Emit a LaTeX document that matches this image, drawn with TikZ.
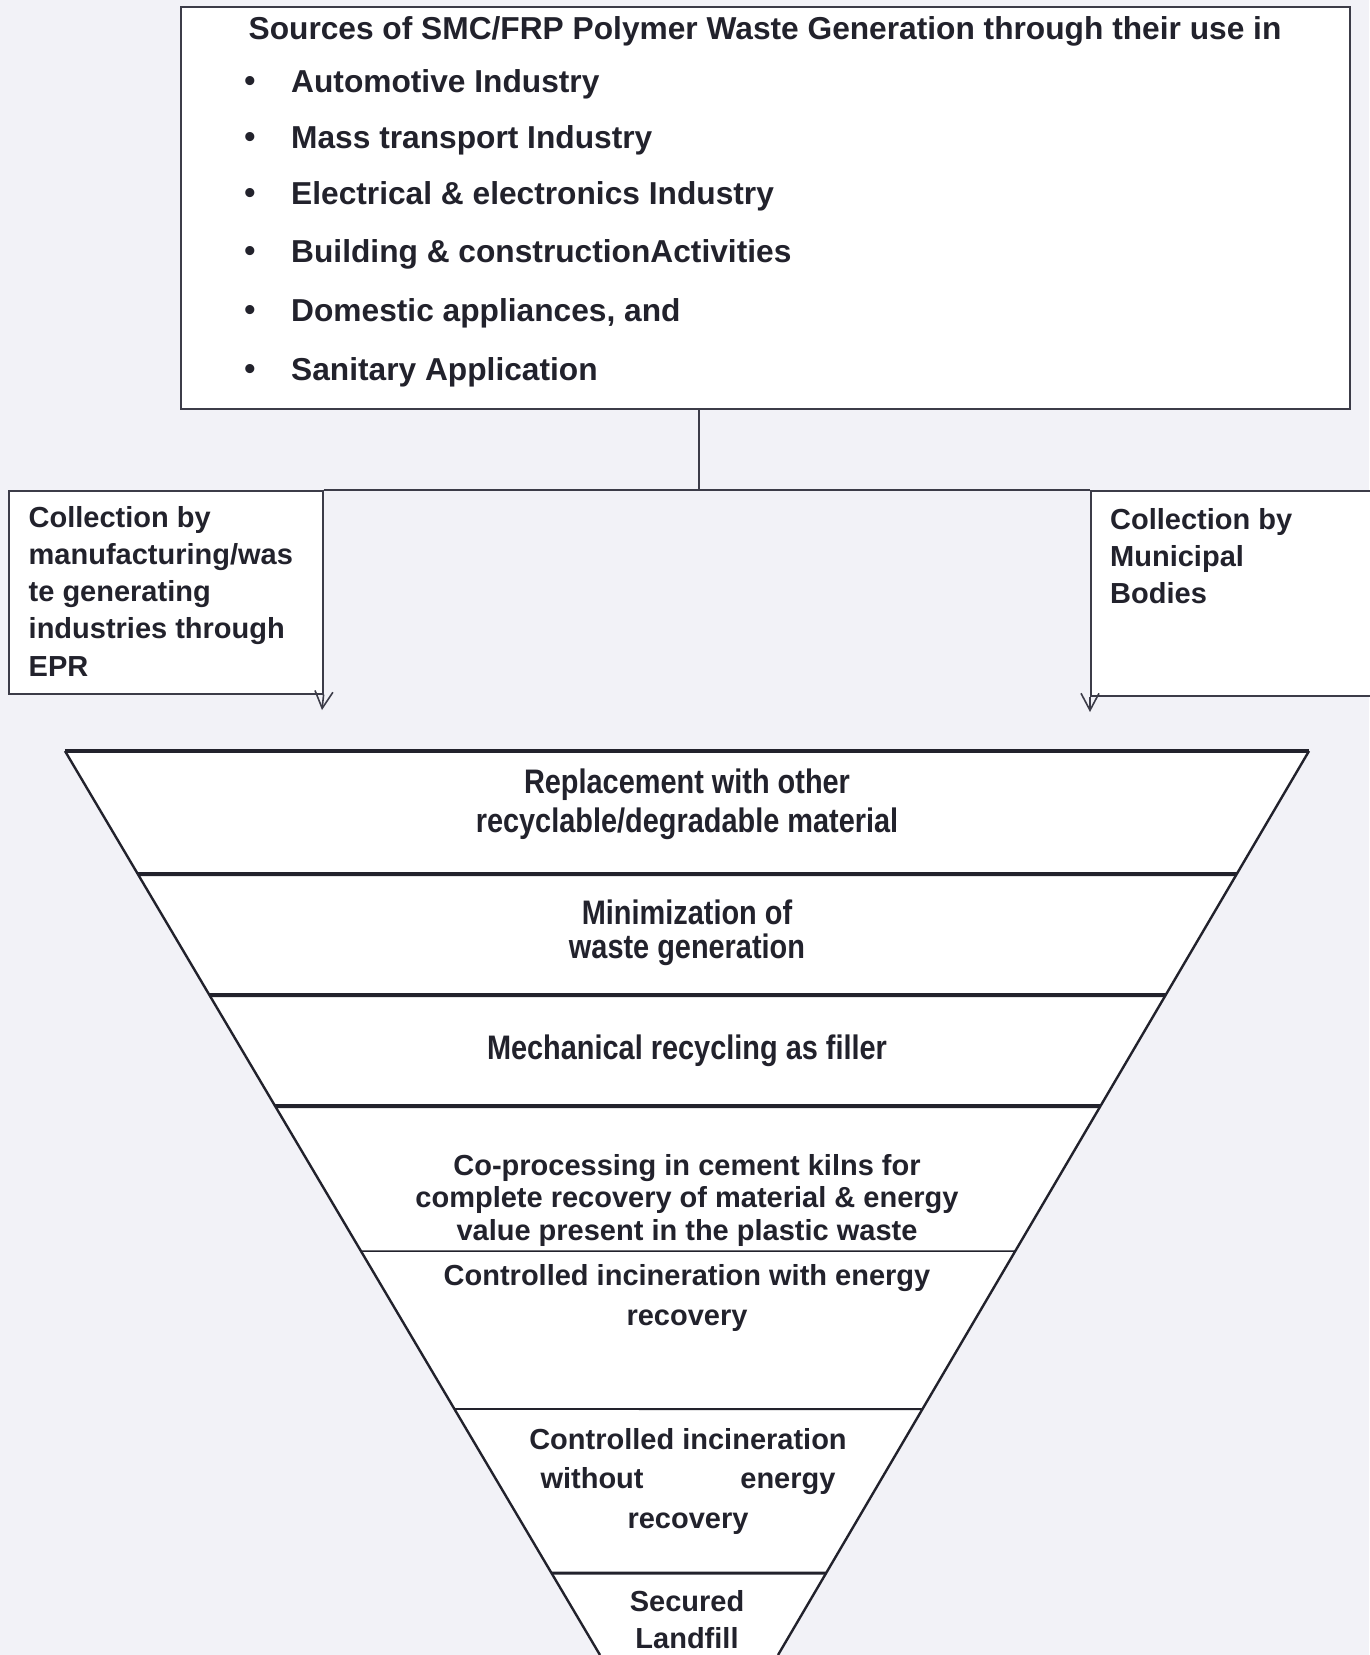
\documentclass[tikz,border=0pt]{standalone}
\usepackage{fontspec}
\setmainfont{Liberation Sans}
\newfontfamily\narrowsans{Liberation Sans}[FakeStretch=0.85]
\usetikzlibrary{arrows.meta}
\definecolor{ink}{RGB}{34,34,44}
\definecolor{lineink}{RGB}{60,60,72}
\definecolor{paper}{RGB}{242,242,247}
\tikzset{
  wire/.style={lineink,line width=1.6pt},
  flow/.style={wire,-{Straight Barb[length=17pt,width=18pt,line width=1.6pt]}},
  panel/.style={draw=lineink,line width=1.6pt,fill=white,inner sep=0pt,anchor=north west},
  head/.style={font=\fontsize{31.7}{36}\selectfont\bfseries,text=ink,inner sep=0pt},
  entry/.style={head,anchor=west},
  side/.style={font=\fontsize{29}{37.2}\selectfont\bfseries,text=ink,inner sep=0pt,
               align=left,anchor=north west},
  tier/.style={font=\fontsize{29}{#1}\selectfont\bfseries,text=ink,inner sep=0pt,align=center},
  tier/.default=40,
  tiernarrow/.style={tier,font=\narrowsans\fontsize{34}{#1}\selectfont\bfseries},
  tiernarrow/.default=39,
  rim/.style={draw=ink,line width=4.5pt},
}

\begin{document}
\begin{tikzpicture}[x=1pt,y=-1pt]
  \path[use as bounding box,fill=paper] (0,0) rectangle (1369,1655);

  % sources box
  \node[panel,minimum width=1169pt,minimum height=402pt] (src) at (180,6) {};
  \node[head] (title) at (765,31.5)
    {Sources of SMC/FRP Polymer Waste Generation through their use in};
  \foreach \txt/\y [count=\i] in {Automotive Industry/84.3, Mass transport Industry/140.2,
      Electrical \& electronics Industry/196.2, Building \& constructionActivities/254.2,
      {Domestic appliances, and}/313.3, Sanitary Application/372.4}{
    \node[head] (dot\i) at (250,\y) {\textbullet};
    \node[entry] (item\i) at (291,\y) {\txt};
  }

  % collection routes
  \coordinate (split) at (699,490);
  \node[panel,minimum width=314pt,minimum height=203pt] (epr) at (8,490) {};
  \node[panel,minimum width=280pt,minimum height=205pt] (mun) at (1090,490) {};
  \draw[wire] (src.south -| split) -- (split);
  \draw[wire] (epr.north east) -- (mun.north west);
  \coordinate (eprtip) at (322,710);
  \coordinate (muntip) at (1090,712);
  \draw[flow] (epr.south east) -- (eprtip);
  \draw[flow] (mun.south west) -- (muntip);
  \node[side] (eprtext) at (28.5,506)
    {Collection by\\manufacturing/was\\te generating\\industries through\\EPR};
  \node[side] (muntext) at (1110,508) {Collection by\\Municipal\\Bodies};

  % funnel
  \coordinate (ftl) at (65,751);
  \coordinate (ftr) at (1309,751);
  \coordinate (fbl) at (600,1655);
  \coordinate (fbr) at (778,1655);
  \fill[white] (ftl) -- (ftr) -- (fbr) -- (fbl) -- cycle;
  \draw[ink,line width=2.4pt] (ftl) -- (fbl) (ftr) -- (fbr);
  \draw[rim] (ftl) -- (ftr);
  \foreach \y/\w in {874/4pt,995/4pt,1106/4pt,1251/1.6pt,1409/1.8pt,1573/3pt}
    \draw[ink,line width=\w] (intersection of ftl--fbl and 0,\y--1,\y)
      -- (intersection of ftr--fbr and 0,\y--1,\y);

  \node[tiernarrow] (replace) at (687,804.5)
    {Replacement with other\\recyclable/degradable material};
  \node[tiernarrow=34] (minimise) at (687,932.5) {Minimization of\\waste generation};
  \node[tiernarrow] (mech) at (687,1051) {Mechanical recycling as filler};
  \node[tier=32.5] (coproc) at (687,1200)
    {Co-processing in cement kilns for\\complete recovery of material \& energy\\value present in the plastic waste};
  \node[tier] (incwith) at (687,1297.5) {Controlled incineration with energy\\recovery};
  \node[tier=39.5] (incwo) at (688,1481)
    {Controlled incineration\\\makebox[295pt]{without\hfill energy}\\recovery};
  \node[tier=37] (landfill) at (687,1620) {Secured\\Landfill};
\end{tikzpicture}
\end{document}
